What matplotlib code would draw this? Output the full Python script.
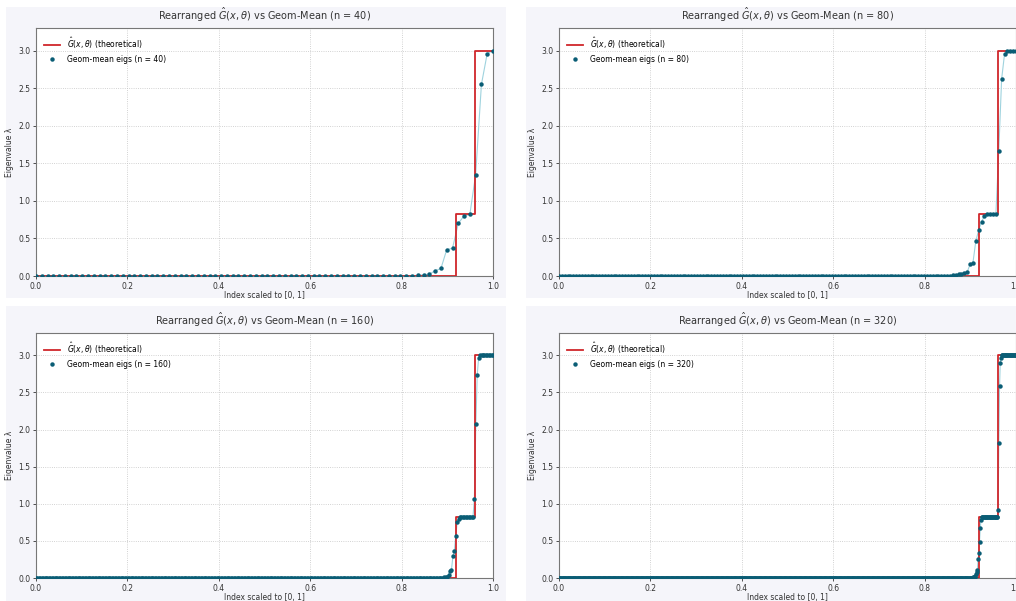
import numpy as np
import matplotlib
matplotlib.use("Agg")
from matplotlib import pyplot as plt
from matplotlib.patches import Rectangle

# panel sizes (n) and number of eigenvalues shown (2n)
ns = [40, 80, 160, 320]

# sorted geometric-mean eigenvalues: leading zeros + read-off tail
zeros_40 = 64
tail_40 = [0.003, 0.005, 0.008, 0.015, 0.025, 0.07, 0.10, 0.35, 0.37, 0.70,
           0.80, 0.82, 1.35, 2.55, 2.96, 3.0]

zeros_80 = 136
tail_80 = [0.005, 0.008, 0.012, 0.02, 0.03, 0.04, 0.05, 0.155, 0.17, 0.46,
           0.61, 0.72, 0.80, 0.82, 0.82, 0.82, 0.82, 1.66, 2.62, 2.95,
           3.0, 3.0, 3.0, 3.0]

zeros_160 = 284
tail_160 = [0.005, 0.008, 0.012, 0.02, 0.04, 0.10, 0.11, 0.29, 0.36, 0.57,
            0.75, 0.80] + [0.82] * 10 + [1.06, 2.07, 2.74, 2.97] + [3.0] * 10

zeros_320 = 578
tail_320 = [0.005, 0.008, 0.012, 0.02, 0.03, 0.05, 0.08, 0.11, 0.25, 0.34,
            0.49, 0.67, 0.78] + [0.82] * 23 + [0.92, 1.82, 2.58, 2.90, 2.97] + [3.0] * 21

eigs = [
    np.concatenate([np.zeros(zeros_40), tail_40]),
    np.concatenate([np.zeros(zeros_80), tail_80]),
    np.concatenate([np.zeros(zeros_160), tail_160]),
    np.concatenate([np.zeros(zeros_320), tail_320]),
]

# theoretical rearranged symbol (step function)
step_x = [0.0, 0.92, 0.92, 0.96, 0.96, 1.0]
step_y = [0.0, 0.0, 0.82, 0.82, 3.0, 3.0]

W, H = 1016, 601
fig = plt.figure(figsize=(W / 100, H / 100), dpi=100, facecolor="white")

# light panel backgrounds (pixel boxes: x0, y0_top, x1, y1_bottom)
panels = [(6, 7, 506, 298), (526, 7, 1016, 298), (6, 306, 506, 601), (526, 306, 1016, 601)]
for x0, y0, x1, y1 in panels:
    fig.patches.append(Rectangle((x0 / W, 1 - y1 / H), (x1 - x0) / W, (y1 - y0) / H,
                                 transform=fig.transFigure, facecolor="#f5f5fa",
                                 edgecolor="none", zorder=-10))

axes_px = [(36, 28, 493, 276), (559, 28, 1016, 276), (36, 333, 493, 578), (559, 333, 1016, 578)]

for k in range(4):
    x0, y0, x1, y1 = axes_px[k]
    ax = fig.add_axes([x0 / W, 1 - y1 / H, (x1 - x0) / W, (y1 - y0) / H])
    ax.set_zorder(1)
    ax.set_facecolor("white")
    ev = eigs[k]
    xs = np.linspace(0, 1, len(ev))
    ax.plot(step_x, step_y, color="#d0262b", lw=1.3, zorder=3,
            label=r"$\hat{G}(x,\theta)$ (theoretical)")
    ax.plot(xs, ev, color="#9fd3de", lw=0.8, zorder=2)
    ax.plot(xs, ev, "o", color="#0a5d75", ms=3.2, mew=0, ls="none", zorder=4,
            label="Geom-mean eigs (n = %d)" % ns[k])
    ax.set_xlim(0, 1)
    ax.set_ylim(0, 3.3)
    ax.set_xticks([0, 0.2, 0.4, 0.6, 0.8, 1.0])
    ax.set_yticks([0, 0.5, 1.0, 1.5, 2.0, 2.5, 3.0])
    ax.grid(True, ls=":", color="#c4c4c4", lw=0.6)
    ax.tick_params(labelsize=5.5, length=2.5, width=0.6, pad=1.5, colors="#333333")
    for s in ax.spines.values():
        s.set_color("#777777")
        s.set_linewidth(0.8)
    ax.set_title(r"Rearranged $\hat{G}(x,\theta)$ vs Geom-Mean (n = %d)" % ns[k],
                 fontsize=7, pad=6, color="#333333")
    ax.set_xlabel("Index scaled to [0, 1]", fontsize=5.5, labelpad=0.5, color="#333333")
    ax.set_ylabel("Eigenvalue λ", fontsize=5.5, labelpad=3, color="#333333")
    ax.legend(loc="upper left", fontsize=5.5, frameon=False, handlelength=2.2,
              borderaxespad=0.6)

fig.savefig("out.png", dpi=100, facecolor="white")
